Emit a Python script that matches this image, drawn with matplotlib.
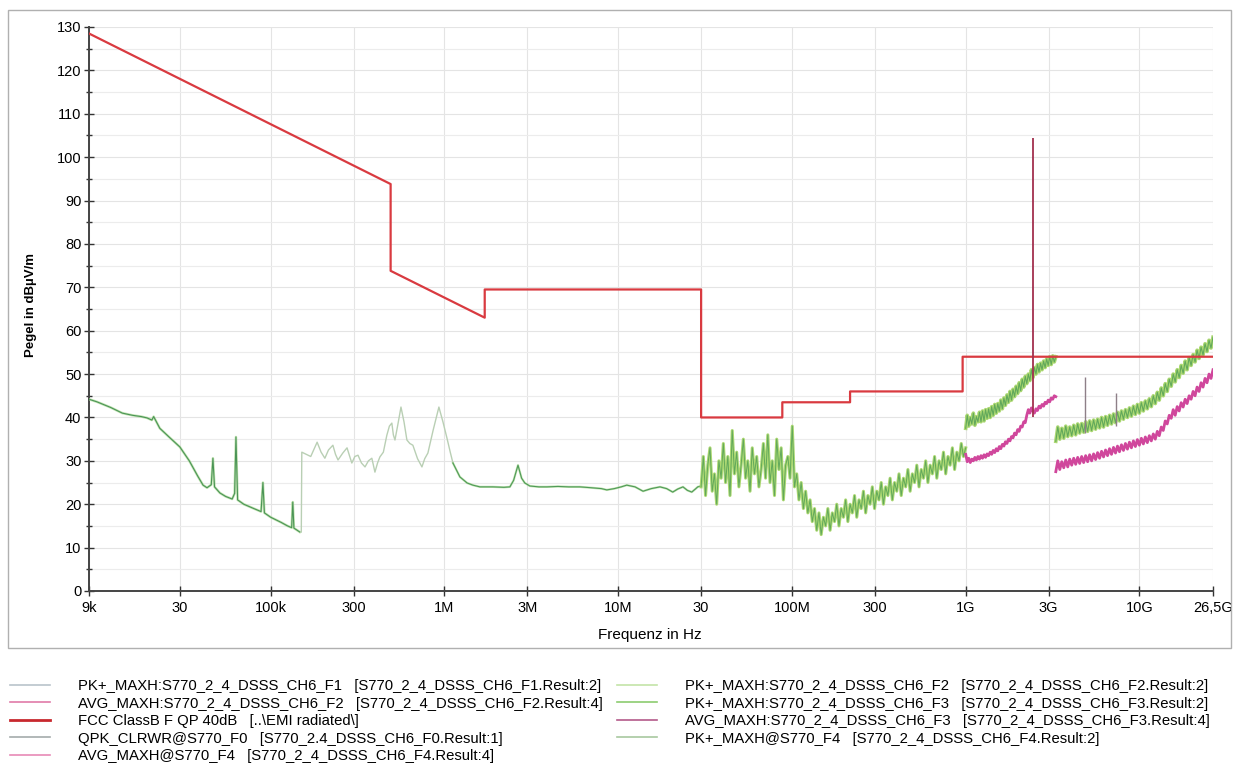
import numpy as np
import matplotlib
matplotlib.use("Agg")
import matplotlib.pyplot as plt
from matplotlib.lines import Line2D
from matplotlib.patches import Rectangle

plt.rcParams['font.family'] = ['Liberation Sans', 'DejaVu Sans']

# ---------------- data ----------------
x_ticks = [9e3, 30e3, 100e3, 300e3, 1e6, 3e6, 10e6, 30e6, 100e6, 300e6, 1e9, 3e9, 10e9, 26.5e9]
x_tick_labels = ['9k', '30', '100k', '300', '1M', '3M', '10M', '30', '100M', '300', '1G', '3G', '10G', '26,5G']
y_ticks = list(range(0, 131, 10))

# FCC Class B limit
limit_freq = [9e3, 490e3, 490e3, 1.705e6, 1.705e6, 30e6, 30e6, 88e6, 88e6, 216e6, 216e6, 960e6, 960e6, 26.5e9]
limit_level = [128.5, 93.8, 73.8, 63.0, 69.5, 69.5, 40.0, 40.0, 43.5, 43.5, 46.0, 46.0, 54.0, 54.0]

# F1 9 kHz - 150 kHz
f1_low_khz = [9, 10, 12, 14, 16, 18, 19.4, 20.7, 21.2, 23, 26, 30, 34, 38, 40.8, 43, 45.5, 46.5, 47.5,
              51, 55, 60, 62, 63.1, 64.5, 70, 80, 88, 90.2, 92, 100, 115, 125, 132, 134, 136, 147]
f1_low_level = [44.2, 43.6, 42.3, 41.0, 40.5, 40.2, 39.9, 39.4, 40.2, 37.5, 35.5, 33.2, 30.0, 26.5, 24.4,
                23.8, 24.5, 30.6, 24.0, 22.6, 21.8, 21.2, 22.5, 35.5, 21.0, 20.0, 19.0, 18.3, 25.0, 18.0,
                17.0, 15.8, 15.0, 14.6, 20.5, 14.5, 13.6]

# F1 150 kHz - 1.1 MHz
f1_mid_khz = [150, 151, 170, 185, 195, 205, 215, 228, 236, 244, 260, 275, 285, 293, 305, 318, 333, 349,
              365, 382, 390, 398, 412, 425, 445, 466, 482, 498, 508, 519, 540, 562, 585, 608, 632, 658,
              700, 742, 770, 803, 860, 929, 980, 1033, 1080, 1119]
f1_mid_level = [13.6, 32.0, 31.0, 34.3, 32.0, 30.6, 32.5, 33.6, 31.5, 30.2, 31.8, 33.0, 31.0, 29.5, 31.0,
                31.3, 29.5, 28.6, 30.0, 30.6, 29.0, 27.4, 29.5, 30.9, 32.0, 35.9, 38.0, 38.7, 36.0, 34.8,
                38.5, 42.4, 39.0, 34.8, 34.0, 33.6, 30.5, 28.6, 30.5, 31.8, 37.0, 42.4, 39.0, 35.3, 32.0,
                29.5]

# F1 1.1 MHz - 30 MHz
f1_hi_mhz = [1.119, 1.227, 1.35, 1.457, 1.6, 1.9, 2.2, 2.38, 2.5, 2.65, 2.78, 2.90, 3.1, 3.5, 3.89, 4.5,
             5.2, 6.02, 7.0, 8.0, 8.6, 9.5, 10.4, 11.2, 12.5, 13.9, 15.5, 17.4, 19.0, 20.6, 22.0, 23.6,
             25.0, 26.5, 27.8, 28.7, 30.0]
f1_hi_level = [29.5, 26.3, 24.9, 24.4, 24.0, 24.0, 23.9, 24.0, 25.5, 29.0, 26.0, 24.9, 24.2, 24.0, 24.0,
               24.1, 24.0, 24.0, 23.8, 23.6, 23.3, 23.6, 24.0, 24.4, 24.0, 23.0, 23.6, 24.0, 23.6, 22.8,
               23.5, 24.0, 23.2, 22.8, 23.5, 24.0, 24.2]

# F2 30 MHz - 1 GHz (PK+)
f2_start, f2_stop = 30e6, 1e9
f2_pk_level = [24, 31, 22, 29, 33, 23, 27, 20, 30, 26,
               34, 25, 31, 22, 37, 27, 32, 24, 29, 35,
               26, 30, 23, 33, 27, 31, 24, 28, 34, 26,
               36, 25, 30, 22, 35, 28, 33, 21, 29, 31,
               26, 38, 24, 27, 21, 25, 19, 23, 18, 21,
               16, 19, 14, 18, 13, 17, 15, 19, 14, 18,
               16, 20, 15, 19, 17, 21, 16, 20, 18, 22,
               17, 21, 19, 23, 18, 22, 20, 24, 19, 23,
               21, 25, 20, 24, 22, 26, 21, 25, 23, 27,
               22, 26, 24, 28, 23, 27, 25, 29, 24, 28,
               26, 30, 25, 29, 27, 31, 26, 30, 28, 32,
               27, 31, 29, 33, 28, 32, 30, 34, 31, 33]

# F3 1 GHz - 3.3 GHz
f3_start, f3_stop = 1e9, 3.3e9
f3_pk_level = [37.5, 40.5, 38.0, 40.0, 38.5, 41.0, 38.2, 40.2, 39.0, 41.2,
               39.0, 41.5, 39.2, 41.8, 39.8, 42.0, 40.0, 42.5, 40.5, 43.0,
               41.0, 43.2, 41.5, 44.0, 42.0, 44.5, 42.8, 45.2, 43.5, 46.0,
               44.0, 46.5, 44.8, 47.2, 45.5, 48.0, 46.2, 48.8, 47.0, 49.5,
               47.8, 50.0, 48.5, 51.0, 49.2, 51.5, 50.0, 52.2, 50.5, 52.5,
               51.0, 53.0, 51.5, 53.5, 52.0, 54.0, 52.2, 54.2, 52.8, 54.0]
f3_avg_level = [31.5, 29.8, 30.6, 29.6, 30.4, 30.0, 30.8, 30.2, 31.0, 30.4,
                31.2, 30.6, 31.4, 30.8, 31.6, 31.2, 32.0, 31.5, 32.4, 31.9,
                32.8, 32.3, 33.3, 32.8, 33.8, 33.4, 34.4, 34.0, 35.0, 34.6,
                35.6, 35.3, 36.4, 36.0, 37.2, 36.8, 38.0, 37.8, 39.0, 38.8,
                40.5, 41.8, 41.0, 42.2, 41.5, 41.0, 42.0, 41.6, 42.6, 42.2,
                43.0, 42.6, 43.5, 43.2, 44.0, 43.6, 44.5, 44.2, 45.0, 44.8]

# Carrier (2.437 GHz)
carrier_freq = [2.437e9]
carrier_base = [40.0]
carrier_peak = [104.5]

# F4 3.3 GHz - 26.5 GHz
f4_start, f4_stop = 3.3e9, 26.5e9
f4_pk_level = [34.5, 37.8, 35.0, 37.5, 35.2, 38.0, 35.6, 37.8, 35.8, 38.2,
               36.0, 38.5, 36.4, 38.6, 36.6, 39.0, 36.8, 39.2, 37.0, 39.4,
               37.3, 39.6, 37.6, 40.0, 37.8, 40.2, 38.2, 40.5, 38.5, 40.8,
               38.8, 41.2, 39.2, 41.5, 39.6, 41.8, 40.0, 42.2, 40.3, 42.6,
               40.7, 43.0, 41.0, 43.4, 41.5, 43.8, 42.0, 44.3, 42.5, 45.0,
               43.2, 45.8, 44.0, 46.8, 45.0, 47.8, 46.0, 48.8, 47.2, 50.0,
               48.2, 51.0, 49.2, 52.0, 50.2, 53.0, 51.0, 53.8, 52.0, 54.5,
               52.8, 55.5, 53.6, 56.2, 54.4, 57.0, 55.2, 57.8, 56.0, 58.5]
f4_avg_level = [27.5, 30.0, 28.0, 29.8, 28.4, 30.2, 28.6, 30.4, 29.0, 30.6,
                29.2, 30.8, 29.4, 31.0, 29.6, 31.2, 29.8, 31.4, 30.0, 31.6,
                30.3, 31.9, 30.6, 32.2, 30.9, 32.5, 31.2, 32.8, 31.5, 33.1,
                31.8, 33.4, 32.1, 33.7, 32.4, 34.0, 32.7, 34.3, 33.0, 34.6,
                33.3, 34.9, 33.6, 35.2, 33.9, 35.5, 34.2, 35.8, 34.6, 36.2,
                35.0, 36.8, 35.8, 37.8, 37.0, 39.2, 38.5, 40.5, 39.8, 41.8,
                40.5, 42.5, 41.5, 43.4, 42.4, 44.2, 43.2, 45.0, 44.2, 46.0,
                45.0, 47.0, 46.0, 48.0, 47.0, 49.0, 48.0, 50.0, 49.0, 51.0]

# Harmonic spikes
harm_freq = [4.874e9, 7.311e9]
harm_base = [36.5, 38.0]
harm_peak = [49.3, 45.6]

legend_left = [
    ('PK+_MAXH:S770_2_4_DSSS_CH6_F1   [S770_2_4_DSSS_CH6_F1.Result:2]', '#b9c4cb', 1.2),
    ('AVG_MAXH:S770_2_4_DSSS_CH6_F2   [S770_2_4_DSSS_CH6_F2.Result:4]', '#e07aa8', 1.2),
    ('FCC ClassB F QP 40dB   [..\\EMI radiated\\]', '#c8282e', 2.0),
    ('QPK_CLRWR@S770_F0   [S770_2.4_DSSS_CH6_F0.Result:1]', '#a4abab', 1.2),
    ('AVG_MAXH@S770_F4   [S770_2_4_DSSS_CH6_F4.Result:4]', '#e88ab6', 1.2),
]
legend_right = [
    ('PK+_MAXH:S770_2_4_DSSS_CH6_F2   [S770_2_4_DSSS_CH6_F2.Result:2]', '#c4e4a8', 1.2),
    ('PK+_MAXH:S770_2_4_DSSS_CH6_F3   [S770_2_4_DSSS_CH6_F3.Result:2]', '#8ccc70', 1.2),
    ('AVG_MAXH:S770_2_4_DSSS_CH6_F3   [S770_2_4_DSSS_CH6_F3.Result:4]', '#b45a8a', 1.2),
    ('PK+_MAXH@S770_F4   [S770_2_4_DSSS_CH6_F4.Result:2]', '#a8c8a0', 1.2),
]

# ---------------- figure ----------------
W, H = 1242, 763
fig = plt.figure(figsize=(W / 100, H / 100), dpi=100)
ax = fig.add_axes([89 / W, 1 - 591 / H, (1213 - 89) / W, (591 - 27) / H])

# outer frame
fig.patches.append(Rectangle((8 / W, 1 - 648 / H), (1231 - 8) / W, (648 - 10) / H,
                             transform=fig.transFigure, fill=False, edgecolor='#b0b0b0', lw=1.0))

ax.set_xscale('log')
ax.set_xlim(9e3, 26.5e9)
ax.set_ylim(0, 130)

green_light = '#acd872'
green_dark = '#4f9d55'
avg_col = '#d0479c'

ax.plot(np.array(f1_low_khz) * 1e3, f1_low_level, color='#a8d890', lw=1.8, alpha=0.7, zorder=3)
ax.plot(np.array(f1_low_khz) * 1e3, f1_low_level, color='#4a9456', lw=0.8, zorder=3)
ax.plot(np.array(f1_mid_khz) * 1e3, f1_mid_level, color='#b9cfb4', lw=1.0, zorder=3)
ax.plot(np.array(f1_hi_mhz) * 1e6, f1_hi_level, color='#a8d890', lw=1.6, alpha=0.7, zorder=3)
ax.plot(np.array(f1_hi_mhz) * 1e6, f1_hi_level, color='#4f9a58', lw=0.8, zorder=3)

f2_freq = np.geomspace(f2_start, f2_stop, len(f2_pk_level))
ax.plot(f2_freq, f2_pk_level, color=green_light, lw=2.2, zorder=3)
ax.plot(f2_freq, f2_pk_level, color=green_dark, lw=0.7, alpha=0.8, zorder=3)

f3_freq = np.geomspace(f3_start, f3_stop, len(f3_pk_level))
ax.plot(f3_freq, f3_pk_level, color=green_light, lw=2.6, zorder=3)
ax.plot(f3_freq, f3_pk_level, color=green_dark, lw=0.8, alpha=0.8, zorder=3)
ax.plot(f3_freq, f3_avg_level, color=avg_col, lw=2.0, zorder=3)

f4_freq = np.geomspace(f4_start, f4_stop, len(f4_pk_level))
ax.plot(f4_freq, f4_pk_level, color=green_light, lw=2.6, zorder=3)
ax.plot(f4_freq, f4_pk_level, color=green_dark, lw=0.8, alpha=0.8, zorder=3)
ax.plot(f4_freq, f4_avg_level, color=avg_col, lw=2.0, zorder=3)

ax.vlines(harm_freq, harm_base, harm_peak, color='#8e7f88', lw=1.0, zorder=4)
ax.vlines(carrier_freq, carrier_base, carrier_peak, color='#a2304e', lw=1.3, zorder=5)

ax.plot(limit_freq, limit_level, color='#d93a40', lw=1.6, zorder=4)

# axes styling
ax.set_xticks(x_ticks)
ax.set_xticklabels(x_tick_labels)
ax.xaxis.set_minor_locator(matplotlib.ticker.NullLocator())
ax.set_yticks(y_ticks)
ax.set_yticks(list(range(5, 130, 10)), minor=True)
ax.tick_params(axis='both', which='major', direction='inout', length=7, width=1.0,
               colors='#333333', labelcolor='black', labelsize=10.5)
ax.tick_params(axis='y', which='minor', direction='inout', length=5, width=1.0, colors='#333333')
ax.tick_params(axis='x', which='major', pad=4)
ax.tick_params(axis='y', which='major', pad=2)
ax.grid(True, which='major', axis='both', color='#e4e4e4', lw=0.8, zorder=0)
ax.grid(True, which='minor', axis='y', color='#ececec', lw=0.8, zorder=0)
for s in ['top', 'right']:
    ax.spines[s].set_visible(False)
for s in ['left', 'bottom']:
    ax.spines[s].set_color('#444444')
    ax.spines[s].set_linewidth(1.4)

fig.text(31 / W, 1 - 305 / H, 'Pegel in dBµV/m', rotation=90, ha='center', va='center',
         fontsize=9.5, fontweight='bold')
fig.text(650 / W, 1 - 635 / H, 'Frequenz in Hz', ha='center', va='center', fontsize=11)

def make_legend(entries, x_px):
    handles = [Line2D([0], [0], color=c, lw=lw) for (_, c, lw) in entries]
    labels = [t for (t, _, _) in entries]
    return fig.legend(handles, labels, loc='upper left',
                      bbox_to_anchor=(x_px / W, 1 - 679 / H),
                      frameon=False, fontsize=10.7, handlelength=2.7, handletextpad=1.85,
                      labelspacing=0.24, borderpad=0, borderaxespad=0)

make_legend(legend_left, 10)
make_legend(legend_right, 617)

fig.savefig('out.png', dpi=100)
